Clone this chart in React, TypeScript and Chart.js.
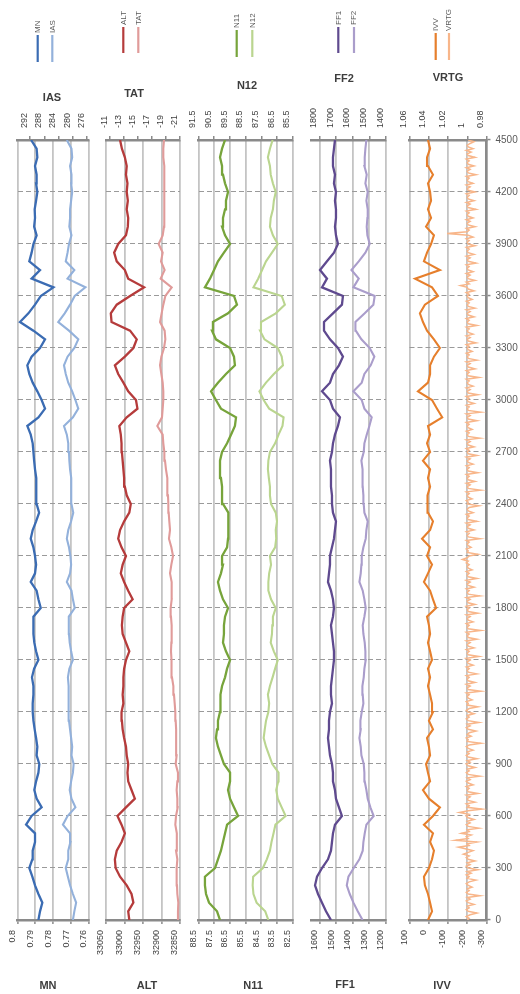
import React, { useEffect, useRef } from "react";
import { Chart, registerables } from "chart.js";

Chart.register(...registerables);

const FONT = '"Liberation Sans", Arial, sans-serif';

// time index (seconds) – vertical axis
const TIME = Array.from({ length: 91 }, (_, i) => i * 50);
const VRTG_TIME = Array.from({ length: 451 }, (_, i) => i * 10);
const Y_TICKS = [0, 300, 600, 900, 1200, 1500, 1800, 2100, 2400, 2700, 3000, 3300, 3600, 3900, 4200, 4500];

// tick labels
const MN_TICKS = [0.8, 0.79, 0.78, 0.77, 0.76];
const IAS_TICKS = [292, 288, 284, 280, 276];
const ALT_TICKS = [33050, 33000, 32950, 32900, 32850];
const TAT_TICKS = [-11, -13, -15, -17, -19, -21];
const N11_TICKS = [88.5, 87.5, 86.5, 85.5, 84.5, 83.5, 82.5];
const N12_TICKS = [91.5, 90.5, 89.5, 88.5, 87.5, 86.5, 85.5];
const FF1_TICKS = [1600, 1500, 1400, 1300, 1200];
const FF2_TICKS = [1800, 1700, 1600, 1500, 1400];
const IVV_TICKS = [100, 0, -100, -200, -300];
const VRTG_TICKS = [1.06, 1.04, 1.02, 1, 0.98];
const IAS_RANGE = [275.5, 295.5];
const TAT_RANGE = [-21, -10.4];
const FF1_RANGE = [1200, 1647];
const FF2_RANGE = [1400, 1847];

// series (t = 0, 50, ..., 4500)
const MN = [
  0.7883, 0.7874, 0.7861, 0.7883, 0.7902, 0.7917, 0.7934, 0.7917, 0.7915, 0.7902,
  0.7902, 0.7952, 0.7921, 0.7865, 0.7893, 0.7906, 0.7896, 0.7883, 0.7878, 0.7893,
  0.7889, 0.7896, 0.7904, 0.7911, 0.7915, 0.7915, 0.7911, 0.7911, 0.7919, 0.7907,
  0.7883, 0.7896, 0.7906, 0.7911, 0.7911, 0.7911, 0.787, 0.7883, 0.7893, 0.7926,
  0.7902, 0.7896, 0.7902, 0.7911, 0.7926, 0.7915, 0.7896, 0.7879, 0.7893, 0.7896,
  0.7893, 0.7896, 0.7902, 0.7907, 0.7911, 0.7915, 0.7926, 0.7945, 0.7883, 0.7846,
  0.7865, 0.7889, 0.7915, 0.7934, 0.7945, 0.7921, 0.7874, 0.7846, 0.7911, 0.7986,
  0.7939, 0.7902, 0.787, 0.7799, 0.7921, 0.7874, 0.7934, 0.7921, 0.7911, 0.7893,
  0.7907, 0.7902, 0.7904, 0.7896, 0.7889, 0.7896, 0.7893, 0.7902, 0.7889, 0.7893,
  0.7924,
];
const IAS = [
  280.0, 279.6, 279.1, 280.0, 280.8, 281.4, 282.0, 281.3, 281.3, 280.7,
  280.8, 282.8, 281.5, 279.3, 280.4, 280.9, 280.5, 280.0, 279.8, 280.4,
  280.2, 280.5, 280.8, 281.1, 281.3, 281.2, 281.1, 281.2, 281.4, 281.0,
  280.0, 280.5, 280.9, 281.1, 281.2, 281.1, 279.5, 280.0, 280.4, 281.7,
  280.8, 280.5, 280.7, 281.1, 281.7, 281.3, 280.5, 279.9, 280.4, 280.5,
  280.4, 280.5, 280.8, 281.0, 281.1, 281.3, 281.7, 282.5, 280.0, 278.5,
  279.3, 280.2, 281.3, 282.0, 282.5, 281.5, 279.6, 278.5, 281.1, 284.1,
  282.3, 280.8, 279.5, 276.5, 281.5, 279.6, 282.0, 281.5, 281.1, 280.4,
  281.0, 280.8, 280.8, 280.5, 280.2, 280.5, 280.4, 280.8, 280.2, 280.4,
  281.7,
];
const ALT = [
  32987, 32990, 32976, 32981, 32994, 33012, 33024, 33026, 33021, 33008,
  32999, 33008, 33019, 32996, 32972, 32981, 32990, 32992, 32990, 32994,
  32996, 33001, 33005, 33007, 33008, 33003, 33005, 33003, 33003, 33001,
  32996, 32987, 32996, 33005, 33007, 33005, 33001, 32978, 32990, 33001,
  33010, 33005, 32996, 33008, 33017, 33012, 33001, 32987, 32983, 32994,
  32999, 33001, 33003, 33005, 33007, 33008, 33010, 33014, 32994, 32965,
  32969, 32990, 33003, 33017, 33026, 32999, 32976, 32967, 32985, 33035,
  33037, 33021, 32985, 32947, 32990, 32999, 33021, 33028, 33017, 32996,
  32991, 32990, 32994, 32991, 32994, 32992, 32996, 32994, 32999, 33007,
  33012,
];
const TAT = [
  -20.67, -20.71, -20.76, -20.62, -20.57, -20.52, -20.52, -20.62, -20.43, -20.52,
  -20.57, -20.33, -20.43, -20.67, -20.62, -20.52, -20.62, -20.71, -20.38, -20.52,
  -20.48, -20.43, -20.43, -20.38, -20.33, -20.24, -20.14, -20.05, -19.85, -19.76,
  -19.81, -19.71, -19.76, -19.85, -19.76, -19.71, -19.66, -19.81, -19.85, -19.76,
  -19.57, -19.76, -20.0, -19.76, -19.42, -19.57, -19.47, -19.38, -19.33, -19.28,
  -19.23, -19.14, -18.99, -18.85, -18.76, -18.61, -18.52, -17.75, -18.42, -18.52,
  -18.61, -18.61, -18.52, -18.33, -18.14, -18.33, -18.71, -18.9, -18.8, -18.14,
  -18.37, -18.61, -18.9, -19.81, -18.23, -18.8, -18.28, -18.52, -17.94, -18.52,
  -18.71, -18.76, -18.71, -18.8, -18.76, -18.71, -18.8, -18.71, -18.61, -18.61,
  -18.71,
];
const N11 = [
  87.13, 87.32, 87.83, 88.02, 88.09, 88.09, 87.45, 87.26, 87.07, 86.94,
  86.81, 86.68, 85.98, 86.24, 86.49, 86.62, 86.49, 86.49, 86.88, 87.07,
  87.26, 87.39, 87.32, 87.26, 87.13, 87.07, 87.13, 87.0, 86.81, 86.68,
  86.49, 86.75, 86.94, 86.88, 86.88, 86.81, 86.62, 86.94, 87.13, 87.26,
  87.07, 86.94, 87.0, 86.68, 86.62, 86.62, 86.56, 86.62, 86.94, 87.0,
  87.0, 87.07, 87.13, 87.13, 87.0, 86.68, 86.43, 86.18, 86.11, 87.07,
  87.39, 87.7, 87.26, 86.75, 86.18, 86.24, 86.49, 87.39, 87.64, 87.58,
  86.62, 86.05, 86.24, 88.09, 87.77, 87.51, 87.26, 86.88, 86.49, 86.81,
  87.0, 86.94, 86.81, 86.75, 86.62, 86.81, 86.94, 87.0, 87.13, 87.0,
  86.81,
];
const N12 = [
  87.05, 87.25, 87.8, 88.0, 88.05, 88.02, 87.4, 87.15, 86.95, 86.85,
  86.72, 86.6, 85.95, 86.2, 86.45, 86.55, 86.42, 86.4, 86.8, 87.0,
  87.2, 87.35, 87.28, 87.2, 87.05, 87.0, 87.08, 86.95, 86.78, 86.62,
  86.45, 86.7, 86.9, 86.82, 86.8, 86.76, 86.58, 86.88, 87.05, 87.05,
  87.0, 86.88, 86.95, 86.62, 86.55, 86.58, 86.5, 86.58, 86.88, 86.95,
  86.95, 87.02, 87.08, 87.05, 86.95, 86.62, 86.4, 86.15, 86.08, 87.0,
  87.35, 87.62, 87.2, 86.7, 86.12, 86.2, 86.45, 87.3, 87.58, 87.52,
  86.58, 86.0, 86.2, 88.0, 87.7, 87.45, 87.2, 86.82, 86.45, 86.76,
  86.95, 86.9, 86.76, 86.7, 86.58, 86.76, 86.9, 86.95, 87.08, 86.95,
  86.78,
];
const FF1 = [
  1531, 1561, 1585, 1609, 1627, 1615, 1585, 1549, 1531, 1525,
  1519, 1507, 1465, 1483, 1501, 1507, 1519, 1519, 1525, 1537,
  1543, 1549, 1543, 1543, 1537, 1525, 1531, 1531, 1525, 1519,
  1513, 1513, 1519, 1525, 1531, 1519, 1513, 1519, 1531, 1549,
  1543, 1537, 1537, 1525, 1513, 1507, 1501, 1519, 1525, 1525,
  1531, 1531, 1531, 1537, 1525, 1519, 1507, 1489, 1477, 1519,
  1537, 1585, 1537, 1519, 1483, 1459, 1489, 1537, 1573, 1573,
  1519, 1465, 1459, 1585, 1555, 1597, 1555, 1513, 1489, 1501,
  1507, 1501, 1501, 1507, 1501, 1513, 1507, 1519, 1519, 1513,
  1507,
];
const FF2 = [
  1541, 1570, 1596, 1618, 1636, 1626, 1594, 1560, 1540, 1536,
  1528, 1518, 1474, 1494, 1510, 1518, 1528, 1530, 1534, 1548,
  1552, 1560, 1552, 1554, 1546, 1536, 1540, 1542, 1534, 1530,
  1522, 1524, 1528, 1536, 1540, 1530, 1522, 1530, 1540, 1560,
  1552, 1548, 1546, 1536, 1522, 1518, 1510, 1530, 1534, 1536,
  1540, 1542, 1540, 1548, 1534, 1530, 1516, 1500, 1486, 1530,
  1546, 1596, 1546, 1530, 1492, 1470, 1498, 1548, 1582, 1584,
  1528, 1476, 1468, 1596, 1564, 1608, 1564, 1524, 1498, 1512,
  1516, 1512, 1510, 1518, 1510, 1524, 1516, 1530, 1528, 1524,
  1518,
];
const IVV = [
  4, -17, -7, 4, 20, 25, -1, -17, -27, -7,
  -22, 25, -22, -58, -1, 30, -7, 4, 14, -7,
  -1, 9, -22, -1, -22, -17, -7, 4, -7, 4,
  -17, -7, 4, -7, -1, 9, -38, -22, -7, 25,
  4, -17, 9, -7, 35, -7, -22, 4, 9, 4,
  -7, 4, -7, 30, -7, 9, -7, 4, -70, -43,
  -17, 56, 4, -7, -7, -27, -58, -27, 9, 30,
  46, 20, -48, -17, 71, -58, 25, 9, -12, -27,
  14, -12, 4, -12, -7, 4, -22, 4, 9, -7,
  4,
];
// t = 0, 10, ..., 4500 (one row per 300 s)
const VRTG = [
  1.0, 0.998, 1.001, 0.997, 0.99, 0.999, 1.001, 0.998, 1.0, 0.993, 0.999, 1.001, 0.997, 1.0, 0.987, 0.999, 1.001, 0.998, 1.0, 0.995, 0.999, 1.001, 0.998, 0.991, 1.0, 0.998, 1.001, 0.996, 1.0, 0.989,
  0.999, 1.001, 0.997, 1.0, 0.992, 0.999, 1.001, 0.998, 1.004, 0.999, 0.994, 1.001, 1.009, 0.998, 1.0, 0.99, 1.012, 0.999, 1.001, 0.996, 1.006, 0.998, 1.0, 0.988, 0.999, 1.001, 0.997, 1.0, 0.993, 0.999,
  1.001, 0.998, 1.008, 0.999, 0.985, 1.0, 0.998, 1.001, 0.992, 0.999, 1.0, 0.997, 1.001, 0.989, 0.999, 1.0, 0.998, 1.001, 0.994, 0.999, 1.001, 0.997, 1.0, 0.987, 0.999, 1.001, 0.998, 1.0, 0.992, 0.999,
  1.001, 0.997, 1.0, 0.99, 0.999, 1.001, 0.998, 1.0, 0.994, 0.999, 1.001, 0.998, 0.986, 1.0, 0.999, 1.001, 0.996, 1.0, 0.998, 0.991, 0.999, 1.001, 0.997, 1.0, 0.988, 0.999, 1.001, 0.998, 1.0, 0.993,
  0.999, 1.001, 0.998, 0.989, 1.0, 0.999, 1.001, 0.995, 0.999, 1.0, 0.998, 1.001, 0.986, 0.999, 1.0, 0.997, 1.001, 0.992, 0.999, 1.0, 0.998, 1.001, 0.99, 0.999, 1.0, 0.998, 1.001, 0.994, 0.999, 1.0,
  0.997, 1.001, 0.988, 0.999, 1.0, 0.998, 1.001, 0.993, 0.999, 1.0, 0.997, 1.001, 0.99, 0.999, 1.0, 0.998, 1.001, 0.986, 0.999, 1.0, 0.998, 1.001, 0.994, 0.999, 1.0, 0.997, 1.001, 0.989, 0.999, 1.0,
  0.998, 1.001, 0.992, 0.999, 1.0, 0.997, 1.001, 0.987, 0.999, 1.0, 0.998, 1.001, 0.993, 0.999, 1.0, 0.997, 1.001, 0.99, 0.999, 1.0, 0.998, 1.001, 0.995, 0.999, 1.0, 0.998, 1.001, 0.999, 1.005, 1.0,
  0.998, 0.989, 1.0, 0.999, 1.001, 0.996, 0.999, 1.0, 0.998, 1.001, 0.987, 0.999, 1.0, 0.998, 1.001, 0.993, 0.999, 1.0, 0.997, 1.001, 0.99, 0.999, 1.0, 0.998, 1.001, 0.994, 0.999, 1.0, 0.998, 0.988,
  1.0, 0.999, 1.001, 0.995, 0.999, 1.0, 0.998, 1.001, 0.986, 0.999, 1.0, 0.997, 1.001, 0.992, 0.999, 1.0, 0.998, 1.001, 0.989, 0.999, 1.0, 0.998, 1.001, 0.994, 0.999, 1.0, 0.997, 1.001, 0.99, 0.999,
  1.0, 0.998, 1.001, 0.993, 0.999, 1.0, 0.997, 1.001, 0.987, 0.999, 1.0, 0.998, 1.001, 0.995, 0.999, 1.0, 0.998, 1.001, 0.99, 0.999, 1.0, 0.997, 1.001, 0.986, 0.999, 1.0, 0.998, 1.001, 0.993, 0.999,
  1.0, 0.998, 1.001, 0.989, 0.999, 1.0, 0.997, 1.001, 0.994, 0.999, 1.0, 0.998, 1.001, 0.988, 0.999, 1.0, 0.998, 1.001, 0.992, 0.999, 1.0, 0.997, 1.001, 0.99, 0.999, 1.0, 0.998, 1.001, 0.995, 0.999,
  1.0, 0.998, 1.001, 0.991, 0.999, 1.0, 0.997, 1.001, 0.994, 0.999, 1.0, 0.998, 1.001, 0.99, 0.999, 1.0, 0.998, 1.001, 0.993, 0.999, 1.0, 0.997, 1.001, 0.992, 0.999, 1.0, 0.998, 1.001, 0.995, 0.999,
  1.0, 0.998, 1.001, 0.993, 0.999, 1.0, 1.007, 0.998, 1.001, 0.992, 0.999, 1.0, 0.997, 1.001, 0.994, 0.999, 1.0, 0.998, 1.001, 0.991, 0.999, 1.0, 0.997, 1.001, 0.993, 0.999, 1.0, 0.998, 1.001, 0.992,
  0.999, 1.0, 0.998, 1.001, 0.994, 0.999, 1.021, 1.0, 0.998, 1.001, 0.992, 0.999, 1.0, 0.997, 1.001, 0.994, 0.999, 1.0, 0.998, 1.001, 0.991, 0.999, 1.0, 0.997, 1.001, 0.993, 0.999, 1.0, 0.998, 1.001,
  0.992, 0.999, 1.0, 0.997, 1.001, 0.994, 0.999, 1.0, 0.998, 1.001, 0.991, 0.999, 1.0, 0.997, 1.001, 0.993, 0.999, 1.0, 0.998, 1.001, 0.992, 0.999, 1.0, 0.996, 1.001, 0.994, 0.999, 1.0, 0.997, 0.993,
  0.999,
];

type Series = {
  name: string;
  values: number[];
  time: number[];
  color: string;
  width: number;
  ticks: number[];
  range: number[];
};
type PanelSpec = {
  left: number;
  right: number;
  yAxis: boolean;
  bottom: Series;
  top: Series;
  titleTop: { text: string; x: number; y: number };
  titleBottom: { text: string; x: number; y: number };
  legend: { x: number[]; y1: number; y2: number; textY: number };
};

const PANELS: PanelSpec[] = [
  {
    left: 17.5, right: 89, yAxis: false,
    bottom: { name: "MN", values: MN, time: TIME, color: "#3b6cb3", width: 2.3, ticks: MN_TICKS, range: [0.76, 0.8] },
    top: { name: "IAS", values: IAS, time: TIME, color: "#93b1db", width: 2.1, ticks: IAS_TICKS, range: IAS_RANGE },
    titleTop: { text: "IAS", x: 52, y: 98 },
    titleBottom: { text: "MN", x: 48, y: 986 },
    legend: { x: [37.7, 52.3], y1: 35, y2: 62, textY: 33 },
  },
  {
    left: 106, right: 180, yAxis: false,
    bottom: { name: "ALT", values: ALT, time: TIME, color: "#b53b3b", width: 2.3, ticks: ALT_TICKS, range: [32850, 33050] },
    top: { name: "TAT", values: TAT, time: TIME, color: "#e09b9a", width: 2.1, ticks: TAT_TICKS, range: TAT_RANGE },
    titleTop: { text: "TAT", x: 134, y: 94 },
    titleBottom: { text: "ALT", x: 147, y: 986 },
    legend: { x: [123.3, 138.3], y1: 27, y2: 53, textY: 25 },
  },
  {
    left: 198.5, right: 292.7, yAxis: false,
    bottom: { name: "N11", values: N11, time: TIME, color: "#77a43b", width: 2.3, ticks: N11_TICKS, range: [82.5, 88.5] },
    top: { name: "N12", values: N12, time: TIME, color: "#bad58f", width: 2.1, ticks: N12_TICKS, range: [85.5, 91.5] },
    titleTop: { text: "N12", x: 247, y: 86 },
    titleBottom: { text: "N11", x: 253, y: 986 },
    legend: { x: [236.7, 252.3], y1: 30, y2: 57, textY: 28 },
  },
  {
    left: 311.7, right: 386, yAxis: false,
    bottom: { name: "FF1", values: FF1, time: TIME, color: "#5f4a8f", width: 2.3, ticks: FF1_TICKS, range: FF1_RANGE },
    top: { name: "FF2", values: FF2, time: TIME, color: "#aa9dcb", width: 2.1, ticks: FF2_TICKS, range: FF2_RANGE },
    titleTop: { text: "FF2", x: 344, y: 79 },
    titleBottom: { text: "FF1", x: 345, y: 985 },
    legend: { x: [338.3, 354], y1: 27, y2: 53, textY: 25 },
  },
  {
    left: 409.5, right: 486.5, yAxis: true,
    bottom: { name: "IVV", values: IVV, time: TIME, color: "#e67f2c", width: 2.1, ticks: IVV_TICKS, range: [-300, 100] },
    top: { name: "VRTG", values: VRTG, time: VRTG_TIME, color: "#f8b68a", width: 1.5, ticks: VRTG_TICKS, range: [0.98, 1.06] },
    titleTop: { text: "VRTG", x: 448, y: 78 },
    titleBottom: { text: "IVV", x: 442, y: 986 },
    legend: { x: [435.7, 449], y1: 33, y2: 60, textY: 31 },
  },
];

const AXIS_GRAY = "#8a8a8a";

function Panel({ spec }: { spec: PanelSpec }) {
  const ref = useRef<HTMLCanvasElement | null>(null);

  useEffect(() => {
    const canvas = ref.current;
    if (!canvas) return;

    const decor = {
      id: "decor",
      afterDraw(chart: any) {
        const ctx = chart.ctx as CanvasRenderingContext2D;
        ctx.save();
        ctx.fillStyle = "#3d3d3d";
        ctx.font = `bold 11px ${FONT}`;
        ctx.textAlign = "center";
        ctx.textBaseline = "middle";
        ctx.fillText(spec.titleTop.text, spec.titleTop.x, spec.titleTop.y);
        ctx.fillText(spec.titleBottom.text, spec.titleBottom.x, spec.titleBottom.y);

        [spec.bottom, spec.top].forEach((s, i) => {
          const x = spec.legend.x[i];
          ctx.strokeStyle = s.color;
          ctx.lineWidth = 2.2;
          ctx.beginPath();
          ctx.moveTo(x, spec.legend.y1);
          ctx.lineTo(x, spec.legend.y2);
          ctx.stroke();
          ctx.save();
          ctx.translate(x, spec.legend.textY);
          ctx.rotate(-Math.PI / 2);
          ctx.font = `8px ${FONT}`;
          ctx.fillStyle = "#595959";
          ctx.textAlign = "left";
          ctx.textBaseline = "middle";
          ctx.fillText(s.name, 0, 0);
          ctx.restore();
        });
        ctx.restore();
      },
    };

    const mkData = (s: Series, axis: string) => ({
      label: s.name,
      data: s.time.map((t, i) => ({ x: s.values[i], y: t })),
      xAxisID: axis,
      yAxisID: "y",
      showLine: true,
      borderColor: s.color,
      backgroundColor: s.color,
      borderWidth: s.width,
      pointRadius: 0,
      fill: false,
      tension: 0,
    });

    const tickFont = { family: FONT, size: 9 };
    const yWidth = spec.yAxis ? 520 - spec.right : 0;

    const chart = new Chart(canvas, {
      type: "scatter",
      data: { datasets: [mkData(spec.top, "x2"), mkData(spec.bottom, "x")] as any },
      options: {
        responsive: false,
        animation: false,
        events: [],
        layout: {
          padding: { left: spec.left, right: spec.yAxis ? 0 : 520 - spec.right, top: 0, bottom: 0 },
        },
        plugins: {
          legend: { display: false },
          title: { display: false },
          tooltip: { enabled: false },
        },
        scales: {
          x: {
            type: "linear",
            position: "bottom",
            reverse: true,
            min: spec.bottom.range[0],
            max: spec.bottom.range[1],
            afterBuildTicks: (s: any) => {
              s.ticks = spec.bottom.ticks.map((v) => ({ value: v }));
            },
            afterFit: (s: any) => {
              s.height = 74;
              s.paddingLeft = 0;
              s.paddingRight = 0;
            },
            ticks: {
              autoSkip: false,
              minRotation: 90,
              maxRotation: 90,
              padding: 6,
              labelOffset: -5,
              font: tickFont,
              color: "#404040",
              callback: (v: any) => String(v),
            },
            grid: {
              color: "#c4c4c4",
              lineWidth: 1.8,
              drawTicks: true,
              tickLength: 4,
              tickColor: AXIS_GRAY,
              tickWidth: 1.5,
            },
            border: { display: true, color: AXIS_GRAY, width: 2.5 },
          },
          x2: {
            type: "linear",
            position: "top",
            reverse: true,
            min: spec.top.range[0],
            max: spec.top.range[1],
            afterBuildTicks: (s: any) => {
              s.ticks = spec.top.ticks.map((v) => ({ value: v }));
            },
            afterFit: (s: any) => {
              s.height = 140;
              s.paddingLeft = 0;
              s.paddingRight = 0;
            },
            ticks: {
              autoSkip: false,
              minRotation: 90,
              maxRotation: 90,
              padding: 8,
              labelOffset: 5,
              font: tickFont,
              color: "#404040",
              callback: (v: any) => String(v),
            },
            grid: {
              drawOnChartArea: false,
              drawTicks: true,
              tickLength: 4,
              color: AXIS_GRAY,
              lineWidth: 1.5,
            },
            border: { display: true, color: AXIS_GRAY, width: 2.5 },
          },
          y: {
            type: "linear",
            position: spec.yAxis ? "right" : "left",
            min: 0,
            max: 4500,
            afterBuildTicks: (s: any) => {
              s.ticks = Y_TICKS.map((v) => ({ value: v }));
            },
            afterFit: (s: any) => {
              s.width = yWidth;
              s.paddingTop = 0;
              s.paddingBottom = 0;
            },
            ticks: {
              display: spec.yAxis,
              autoSkip: false,
              padding: 5,
              font: { family: FONT, size: 10 },
              color: "#5a5a5a",
              callback: (v: any) => String(v),
            },
            grid: {
              color: (c: any) =>
                c.tick && (c.tick.value === 0 || c.tick.value === 4500) ? "rgba(0,0,0,0)" : "#9a9a9a",
              lineWidth: 1.1,
              drawTicks: spec.yAxis,
              tickLength: 4,
              tickColor: AXIS_GRAY,
              tickWidth: 1.5,
            },
            border: { display: spec.yAxis, color: AXIS_GRAY, width: 2.5, dash: [5, 3] },
          },
        },
      } as any,
      plugins: [decor],
    });

    return () => chart.destroy();
  }, [spec]);

  return (
    <canvas
      ref={ref}
      width={520}
      height={994}
      style={{ position: "absolute", left: 0, top: 0, width: 520, height: 994, pointerEvents: "none" }}
    />
  );
}

export default function App() {
  return (
    <div style={{ position: "absolute", left: 0, top: 0, width: 520, height: 994, background: "#ffffff" }}>
      {PANELS.map((p, i) => (
        <Panel key={i} spec={p} />
      ))}
    </div>
  );
}
